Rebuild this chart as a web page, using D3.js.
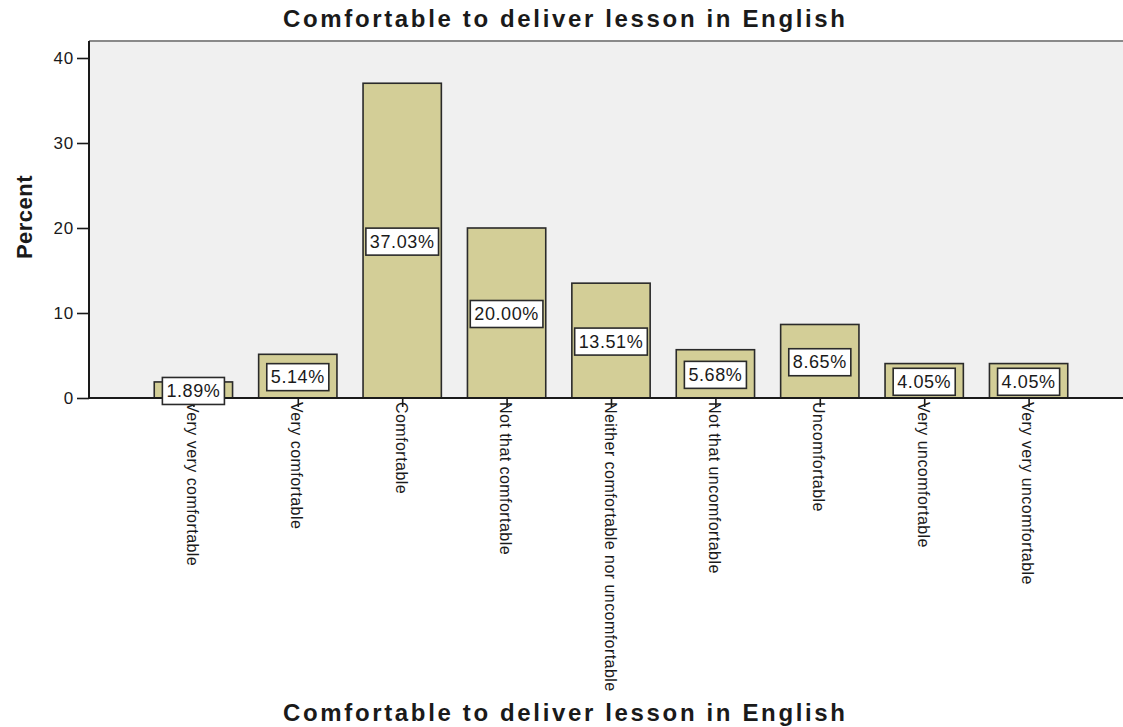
<!DOCTYPE html>
<html>
<head>
<meta charset="utf-8">
<script src="https://cdn.jsdelivr.net/npm/d3@7"></script>
<style>
  html, body { margin: 0; padding: 0; background: #ffffff; }
  svg { display: block; }
  text { font-family: "Liberation Sans", Arial, sans-serif; fill: #1a1a1a; }
</style>
</head>
<body>
<script>
const categories = [
  "Very very comfortable",
  "Very comfortable",
  "Comfortable",
  "Not that comfortable",
  "Neither comfortable nor uncomfortable",
  "Not that uncomfortable",
  "Uncomfortable",
  "Very uncomfortable",
  "Very very uncomfortable"
];
const percents = [1.89, 5.14, 37.03, 20.00, 13.51, 5.68, 8.65, 4.05, 4.05];
const yTicks = [0, 10, 20, 30, 40];
const chartTitle = "Comfortable to deliver lesson in English";
const xTitle = "Comfortable to deliver lesson in English";
const yTitle = "Percent";

const W = 1123, H = 727;
const plotLeft = 89, plotTop = 41, plotRight = 1133, plotBottom = 398;

const svg = d3.select("body").append("svg").attr("width", W).attr("height", H);

const x = d3.scalePoint().domain(categories).range([plotLeft, plotRight]).padding(1);
const y = d3.scaleLinear().domain([0, 40]).range([plotBottom, 58]);
const barW = x.step() * 0.75;

// plot background
svg.append("rect")
  .attr("x", plotLeft).attr("y", plotTop)
  .attr("width", plotRight - plotLeft).attr("height", plotBottom - plotTop)
  .attr("fill", "#f0f0f0");
svg.append("line")
  .attr("x1", plotLeft).attr("x2", W).attr("y1", plotTop).attr("y2", plotTop)
  .attr("stroke", "#8a8a8a").attr("stroke-width", 2);

// bars
const data = categories.map((c, i) => ({ c, v: percents[i] }));
svg.append("g").selectAll("rect").data(data).join("rect")
  .attr("x", d => x(d.c) - barW / 2)
  .attr("y", d => y(d.v))
  .attr("width", barW)
  .attr("height", d => y(0) - y(d.v))
  .attr("fill", "#d3ce97")
  .attr("stroke", "#2a2a2a")
  .attr("stroke-width", 1.6);

// y axis
const yAxis = d3.axisLeft(y).tickValues(yTicks).tickSize(12).tickPadding(3).tickSizeOuter(0);
const gy = svg.append("g").attr("transform", `translate(${plotLeft},0)`).call(yAxis);
gy.select(".domain").remove();
gy.selectAll(".tick line").attr("stroke", "#1a1a1a").attr("stroke-width", 1.6);
gy.selectAll(".tick text").attr("font-size", 17).attr("letter-spacing", 0.8)
  .attr("font-family", "Liberation Sans, Arial, sans-serif").attr("fill", "#1a1a1a");
svg.append("line")
  .attr("x1", plotLeft).attr("x2", plotLeft).attr("y1", plotTop).attr("y2", plotBottom)
  .attr("stroke", "#1a1a1a").attr("stroke-width", 2);

// x axis
const xAxis = d3.axisBottom(x).tickSize(9).tickSizeOuter(0).tickFormat("");
const gx = svg.append("g").attr("transform", `translate(0,${plotBottom})`).call(xAxis);
gx.select(".domain").remove();
gx.selectAll(".tick line").attr("stroke", "#1a1a1a").attr("stroke-width", 1.6);
svg.append("line")
  .attr("x1", plotLeft).attr("x2", W).attr("y1", plotBottom).attr("y2", plotBottom)
  .attr("stroke", "#1a1a1a").attr("stroke-width", 2);

// category labels (rotated)
svg.append("g").selectAll("text").data(categories).join("text")
  .attr("transform", d => `translate(${x(d) - 1},${plotBottom + 4}) rotate(90)`)
  .attr("text-anchor", "start")
  .attr("dominant-baseline", "central")
  .attr("font-size", 16)
  .attr("letter-spacing", 0.45)
  .text(d => d);

// value labels
const lg = svg.append("g");
data.forEach(d => {
  const cy = (y(d.v) + y(0)) / 2 + 1;
  const cx = x(d.c);
  const g = lg.append("g");
  const rect = g.append("rect");
  const t = g.append("text")
    .attr("x", cx).attr("y", cy)
    .attr("text-anchor", "middle")
    .attr("dominant-baseline", "central")
    .attr("font-size", 18)
    .attr("letter-spacing", 0.6)
    .text(d.v.toFixed(2) + "%");
  const tw = t.node().getComputedTextLength();
  const bw = Math.min(tw + 8, barW - 2);
  rect.attr("x", cx - bw / 2).attr("y", cy - 13.5)
    .attr("width", bw).attr("height", 27)
    .attr("fill", "#ffffff").attr("stroke", "#2a2a2a").attr("stroke-width", 1.6);
});

// titles
svg.append("text")
  .attr("x", 564).attr("y", 27)
  .attr("text-anchor", "middle")
  .attr("font-size", 24).attr("font-weight", "bold")
  .attr("textLength", 562).attr("lengthAdjust", "spacing")
  .text(chartTitle);
svg.append("text")
  .attr("x", 564).attr("y", 721)
  .attr("text-anchor", "middle")
  .attr("font-size", 24).attr("font-weight", "bold")
  .attr("textLength", 562).attr("lengthAdjust", "spacing")
  .text(xTitle);
svg.append("text")
  .attr("transform", `translate(32,217) rotate(-90)`)
  .attr("text-anchor", "middle")
  .attr("font-size", 22).attr("font-weight", "bold")
  .attr("letter-spacing", 0.5)
  .text(yTitle);
</script>
</body>
</html>
